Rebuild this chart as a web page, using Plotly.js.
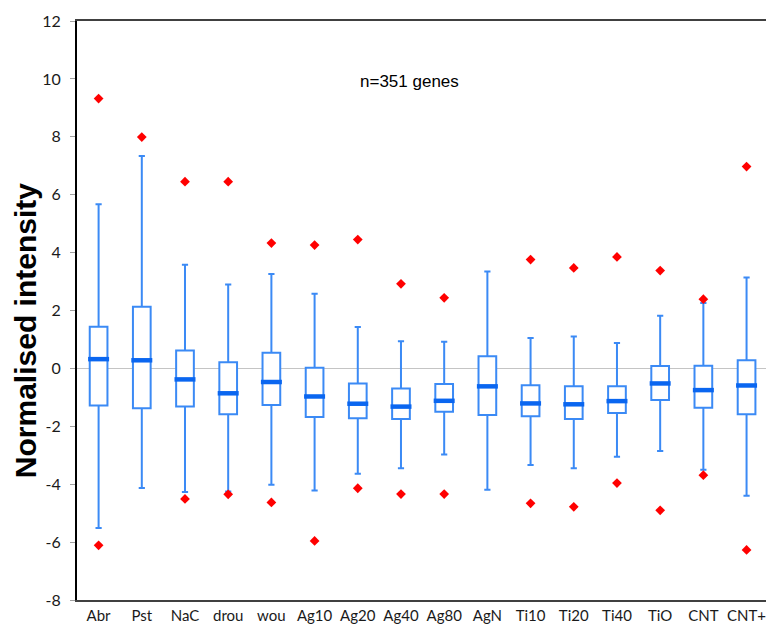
<!DOCTYPE html>
<html>
<head>
<meta charset="utf-8">
<script src="https://cdn.plot.ly/plotly-3.0.1.min.js"></script>
<style>html,body{margin:0;padding:0;background:#fff;}#chart{width:766px;height:628px;}</style>
</head>
<body>
<div id="chart"></div>
<script>
const categories = ["Abr","Pst","NaC","drou","wou","Ag10","Ag20","Ag40","Ag80","AgN","Ti10","Ti20","Ti40","TiO","CNT","CNT+"];
const whiskerHigh = [5.67, 7.34, 3.58, 2.90, 3.26, 2.58, 1.43, 0.94, 0.92, 3.35, 1.05, 1.10, 0.88, 1.82, 2.26, 3.14];
const q3 =          [1.44, 2.13, 0.62, 0.21, 0.54, 0.02, -0.52, -0.69, -0.54, 0.42, -0.58, -0.62, -0.62, 0.08, 0.09, 0.28];
const medians =     [0.32, 0.28, -0.38, -0.86, -0.47, -0.97, -1.22, -1.32, -1.12, -0.62, -1.21, -1.24, -1.13, -0.52, -0.75, -0.59];
const q1 =          [-1.28, -1.38, -1.32, -1.58, -1.26, -1.68, -1.72, -1.75, -1.50, -1.61, -1.65, -1.75, -1.54, -1.09, -1.36, -1.58];
const whiskerLow =  [-5.51, -4.13, -4.27, -4.25, -4.02, -4.22, -3.64, -3.45, -2.97, -4.19, -3.34, -3.45, -3.05, -2.85, -3.50, -4.40];
const outlierHigh = [9.32, 7.99, 6.45, 6.45, 4.33, 4.26, 4.45, 2.92, 2.44, null, 3.76, 3.47, 3.85, 3.38, 2.39, 6.97];
const outlierLow =  [-6.11, null, -4.51, -4.35, -4.63, -5.96, -4.14, -4.34, -4.34, null, -4.66, -4.78, -3.96, -4.90, -3.69, -6.27];
const yTicks = [-8, -6, -4, -2, 0, 2, 4, 6, 8, 10, 12];
const annotationText = "n=351 genes";
const yTitle = "Normalised intensity";

const boxColor = "#3b8af5";
const tickFont = {family: "Lato, 'Open Sans', sans-serif", size: 16, color: "#1a1a1a"};
const xTickFont = {family: "Lato, 'Open Sans', sans-serif", size: 15, color: "#1a1a1a"};
const traces = [
  {
    type: "box",
    x: categories,
    q1: q1,
    median: medians,
    q3: q3,
    lowerfence: whiskerLow,
    upperfence: whiskerHigh,
    width: 0.41,
    whiskerwidth: 0.35,
    fillcolor: "#ffffff",
    line: {color: boxColor, width: 2},
    boxpoints: false,
    hoverinfo: "skip"
  },
  {
    type: "scatter",
    mode: "markers",
    x: categories,
    y: medians,
    marker: {symbol: "line-ew", size: 15, color: "#0a66f0", line: {color: "#0a66f0", width: 4.5}},
    hoverinfo: "skip"
  },
  {
    type: "scatter",
    mode: "markers",
    x: categories,
    y: outlierHigh,
    marker: {symbol: "diamond", size: 7.5, color: "#ff0000"},
    hoverinfo: "skip"
  },
  {
    type: "scatter",
    mode: "markers",
    x: categories,
    y: outlierLow,
    marker: {symbol: "diamond", size: 7.5, color: "#ff0000"},
    hoverinfo: "skip"
  }
];

const layout = {
  width: 766,
  height: 628,
  margin: {l: 77, r: 0, t: 20.7, b: 28},
  paper_bgcolor: "#ffffff",
  plot_bgcolor: "#ffffff",
  showlegend: false,
  hovermode: false,
  font: tickFont,
  xaxis: {
    type: "category",
    categoryarray: categories,
    range: [-0.5, 15.45],
    showgrid: false,
    zeroline: false,
    showline: true,
    linecolor: "#404040",
    linewidth: 2,
    mirror: true,
    ticks: "",
    ticklabelstandoff: 1,
    tickfont: xTickFont,
    automargin: false
  },
  yaxis: {
    range: [-8, 12],
    tickvals: yTicks,
    ticktext: yTicks.map(String),
    showgrid: false,
    zeroline: true,
    zerolinecolor: "#c4c4c4",
    zerolinewidth: 1.5,
    showline: true,
    linecolor: "#000000",
    linewidth: 2,
    ticks: "outside",
    ticklen: 5,
    tickcolor: "#a0a0a0",
    tickwidth: 1,
    ticklabelstandoff: 6,
    tickfont: tickFont,
    automargin: false
  },
  annotations: [
    {
      text: annotationText,
      xref: "paper", yref: "paper",
      x: 0.483, y: 0.896,
      xanchor: "center", yanchor: "middle",
      showarrow: false,
      font: {family: "'Liberation Sans', Arial, sans-serif", size: 17, color: "#000"}
    },
    {
      text: yTitle,
      xref: "paper", yref: "paper",
      x: -0.0755, y: 0.466,
      xanchor: "center", yanchor: "middle",
      textangle: -90,
      showarrow: false,
      font: {family: "'Liberation Sans', Arial, sans-serif", size: 30, color: "#000", weight: "bold"}
    }
  ]
};

Plotly.newPlot("chart", traces, layout, {displayModeBar: false, staticPlot: true});
</script>
</body>
</html>
